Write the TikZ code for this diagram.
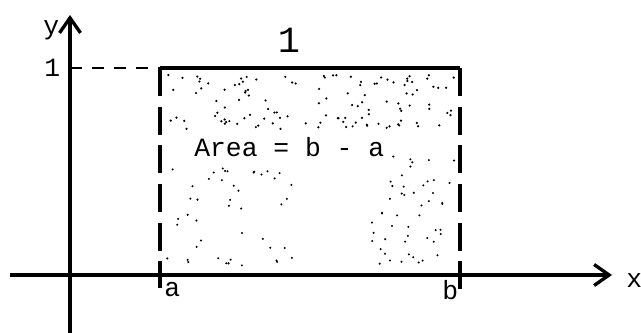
\documentclass[tikz,border=0pt]{standalone}
\usepackage{fontspec}
\setmonofont{Liberation Mono}
\usepackage{tikz}
\usetikzlibrary{arrows.meta}

\begin{document}
\begin{tikzpicture}[
      x=0.02cm, y=-0.02cm,
      axis/.style={line width=1.9pt, -{Straight Barb[length=3mm,width=4.2mm,line width=1.9pt]}},
      edge/.style={line width=1.9pt, dash pattern=on 16pt off 6pt},
      guide/.style={line width=1.4pt, dash pattern=on 7pt off 5.5pt},
      lab/.style={font=\ttfamily\fontsize{15}{18}\selectfont, inner sep=0pt},
      dot/.style={fill=black}
    ]
    \useasboundingbox (0,0) rectangle (641,333);

    \coordinate (xstart) at (10,275);
    \coordinate (xend) at (612,275);
    \coordinate (ybot) at (70,336);
    \coordinate (ytop) at (70,15);
    \coordinate (one) at (70,68);
    \coordinate (atop) at (160,68);
    \coordinate (btop) at (460,68);
    \coordinate (alow) at (160,288);
    \coordinate (blow) at (460,292);

    % stippled area
    \pgfmathsetseed{17}
    \foreach \i in {1,...,120}{
      \pgfmathsetmacro\px{166+288*rnd}
      \pgfmathsetmacro\py{74+55*rnd}
      \fill[dot] (\px,\py) circle[radius=0.7pt];
    }
    \foreach \i in {1,...,45}{
      \pgfmathsetmacro\px{166+130*rnd}
      \pgfmathsetmacro\py{165+105*rnd}
      \fill[dot] (\px,\py) circle[radius=0.65pt];
    }
    \foreach \i in {1,...,50}{
      \pgfmathsetmacro\px{370+85*rnd}
      \pgfmathsetmacro\py{150+118*rnd}
      \fill[dot] (\px,\py) circle[radius=0.65pt];
    }

    \draw[axis] (xstart) -- (xend);
    \draw[axis] (ybot) -- (ytop);
    \draw[guide] (one) -- (atop);
    \draw[line width=2.5pt] (atop) -- (btop);
    \draw[edge] (atop) -- (alow);
    \draw[edge] (btop) -- (blow);

    \node[lab, anchor=base west] (ylab) at (43,35) {y};
    \node[lab, anchor=base west] (onelab) at (44,77) {1};
    \node[lab, anchor=base, font=\ttfamily\fontsize{21}{24}\selectfont] (width) at (289,53) {1};
    \node[lab, anchor=base west] (area) at (194,157) {Area = b - a};
    \node[lab, anchor=base west] (alab) at (164,297) {a};
    \node[lab, anchor=base west] (blab) at (442,300) {b};
    \node[lab, anchor=base west] (xlab) at (626,288) {x};
  \end{tikzpicture}
\end{document}
